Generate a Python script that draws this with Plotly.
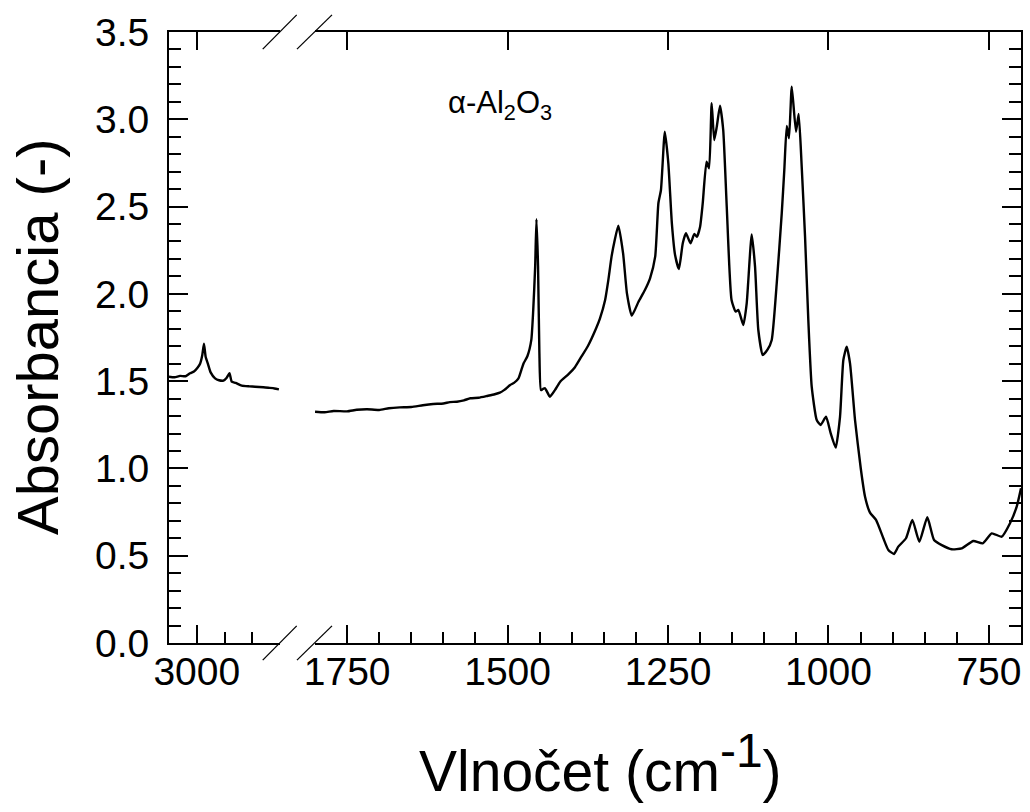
import plotly.graph_objects as go

# ---- data ----
left_wn = [3050, 3040, 3030, 3020, 3012, 3005, 2999, 2994, 2990, 2987, 2984, 2980, 2975,
           2967, 2960, 2952, 2946, 2941, 2937, 2930, 2919, 2905, 2895, 2880, 2871, 2860, 2852]
left_abs = [1.525, 1.522, 1.530, 1.528, 1.545, 1.555, 1.575, 1.600, 1.650, 1.715, 1.640, 1.600, 1.550,
            1.516, 1.505, 1.503, 1.520, 1.545, 1.497, 1.490, 1.474, 1.470, 1.468, 1.465, 1.462, 1.458, 1.453]

right_wn = [1800, 1785, 1771, 1750, 1735, 1719, 1700, 1685, 1668, 1650, 1632, 1616, 1600, 1590,
            1579, 1568, 1558, 1545, 1532, 1520, 1512, 1505, 1496, 1490, 1483, 1478, 1475, 1469,
            1463, 1460, 1457, 1455, 1452.5, 1450.5, 1448, 1445, 1441.6, 1434, 1426, 1418, 1405,
            1395, 1385, 1375, 1362, 1356, 1348, 1343, 1338, 1333, 1327.4, 1320, 1314, 1306.5,
            1296, 1286, 1278, 1270, 1265, 1261, 1255, 1249.5, 1244, 1239, 1233, 1227, 1222, 1215,
            1209, 1205, 1200, 1196, 1190, 1186, 1182, 1178, 1174, 1169, 1164, 1158.5, 1151,
            1144.5, 1140.4, 1132.7, 1127.4, 1119.6, 1114.4, 1109.3, 1102.4, 1095, 1088.4, 1080.6,
            1072.8, 1068.8, 1065, 1061.5, 1057.2, 1050.6, 1046.4, 1041.7, 1036.5, 1031.4, 1026.1,
            1018.3, 1012.1, 1003.8, 996.5, 988.7, 982, 976.8, 971.6, 966.4, 958.6, 949.7, 943,
            935.3, 925.9, 914.5, 906.7, 897.9, 891.2, 879.2, 869.3, 858.4, 846, 835.5, 823.5, 808,
            792.4, 774.3, 759.7, 745.6, 730.1, 717.1, 706.7, 700]
right_abs = [1.325, 1.322, 1.329, 1.327, 1.336, 1.339, 1.335, 1.345, 1.350, 1.352, 1.362, 1.369, 1.372, 1.380,
             1.382, 1.390, 1.402, 1.405, 1.415, 1.425, 1.434, 1.450, 1.478, 1.490, 1.516, 1.570, 1.602, 1.644,
             1.736, 1.908, 2.156, 2.427, 2.156, 1.678, 1.449, 1.455, 1.459, 1.411, 1.450, 1.497, 1.540,
             1.580, 1.640, 1.700, 1.803, 1.860, 1.965, 2.079, 2.213, 2.309, 2.391, 2.232, 2.003, 1.875,
             1.955, 2.022, 2.089, 2.213, 2.519, 2.595, 2.929, 2.748, 2.404, 2.223, 2.142, 2.290, 2.347, 2.290,
             2.343, 2.327, 2.385, 2.515, 2.757, 2.719, 3.092, 2.881, 2.958, 3.078, 2.939, 2.499, 1.965,
             1.898, 1.908, 1.822, 1.946, 2.341, 2.156, 1.793, 1.650, 1.680, 1.736, 2.060,
             2.461, 2.710, 2.962, 2.891, 3.187, 2.929, 3.030, 2.729, 2.328, 1.850, 1.468,
             1.277, 1.249, 1.296, 1.201, 1.119, 1.296, 1.621, 1.697, 1.602, 1.277, 1.001, 0.838,
             0.747, 0.705, 0.600, 0.533, 0.510, 0.552, 0.600, 0.705, 0.580, 0.720, 0.590, 0.561, 0.537,
             0.542, 0.584, 0.571, 0.628, 0.609, 0.686, 0.781, 0.886]

y_ticks = [0.0, 0.5, 1.0, 1.5, 2.0, 2.5, 3.0, 3.5]
y_ticktext = ["0.0", "0.5", "1.0", "1.5", "2.0", "2.5", "3.0", "3.5"]
left_ticks = [3000]
right_ticks = [1750, 1500, 1250, 1000, 750]

FONT = "Arial, Liberation Sans, sans-serif"
BLACK = "black"
D1 = [0, 0.1303]
D2 = [0.1714, 1]
LINE = dict(color=BLACK, width=2.4, shape="spline", smoothing=0.5)

fig = go.Figure()
fig.add_trace(go.Scatter(x=left_wn, y=left_abs, mode="lines", xaxis="x", yaxis="y",
                         line=LINE, showlegend=False, hoverinfo="skip"))
fig.add_trace(go.Scatter(x=right_wn, y=right_abs, mode="lines", xaxis="x2", yaxis="y2",
                         line=LINE, showlegend=False, hoverinfo="skip"))
# invisible helpers so that the top-tick overlay axes are created
fig.add_trace(go.Scatter(x=left_ticks, y=[0], mode="markers", xaxis="x3", yaxis="y",
                         marker=dict(opacity=0), showlegend=False, hoverinfo="skip"))
fig.add_trace(go.Scatter(x=right_ticks, y=[0] * len(right_ticks), mode="markers", xaxis="x4", yaxis="y2",
                         marker=dict(opacity=0), showlegend=False, hoverinfo="skip"))

common_x = dict(showline=True, linecolor=BLACK, linewidth=2, ticks="inside", ticklen=18, tickwidth=2,
                tickcolor=BLACK, showgrid=False, zeroline=False, mirror=True,
                tickfont=dict(family=FONT, size=39, color=BLACK), ticklabelstandoff=-7)
common_y = dict(showline=True, linecolor=BLACK, linewidth=2, ticks="inside", ticklen=19, tickwidth=2,
                tickcolor=BLACK, showgrid=False, zeroline=False, range=[0, 3.5],
                tickvals=y_ticks, ticktext=y_ticktext,
                minor=dict(dtick=0.1, tick0=0, ticks="inside", ticklen=12, tickwidth=2, tickcolor=BLACK,
                           showgrid=False),
                tickfont=dict(family=FONT, size=39, color=BLACK))

fig.update_layout(
    width=1030, height=812, autosize=False,
    margin=dict(l=169, r=9, t=32, b=169, pad=0),
    paper_bgcolor="white", plot_bgcolor="white",
    showlegend=False,
    xaxis=dict(domain=D1, range=[3050, 2850], anchor="y", tickvals=left_ticks,
               ticktext=[str(v) for v in left_ticks],
               minor=dict(dtick=50, tick0=3000, ticks="inside", ticklen=11, tickwidth=2,
                          tickcolor=BLACK, showgrid=False), **common_x),
    xaxis2=dict(domain=D2, range=[1800, 700], anchor="y2", tickvals=right_ticks,
                ticktext=[str(v) for v in right_ticks],
                minor=dict(dtick=50, tick0=750, ticks="inside", ticklen=11, tickwidth=2,
                           tickcolor=BLACK, showgrid=False), **common_x),
    xaxis3=dict(overlaying="x", side="top", anchor="y", range=[3050, 2850], tickvals=left_ticks,
                ticks="inside", ticklen=18, tickwidth=2, tickcolor=BLACK, showticklabels=False,
                showline=False, showgrid=False, zeroline=False),
    xaxis4=dict(overlaying="x2", side="top", anchor="y2", range=[1800, 700], tickvals=right_ticks,
                ticks="inside", ticklen=18, tickwidth=2, tickcolor=BLACK, showticklabels=False,
                showline=False, showgrid=False, zeroline=False),
    yaxis=dict(anchor="x", side="left", ticklabelstandoff=10, **common_y),
    yaxis2=dict(anchor="x2", side="right", matches="y", showticklabels=False, **common_y),
)

# axis-break slashes (paper coordinates)
for (x0, x1) in [(0.110, 0.1499), (0.1502, 0.1913)]:
    for yc in [0.0, 1.0]:
        fig.add_shape(type="line", xref="paper", yref="paper", x0=x0, x1=x1,
                      y0=yc - 0.028, y1=yc + 0.028, line=dict(color=BLACK, width=1.3))

fig.add_annotation(xref="paper", yref="paper", x=-0.155, y=0.5008, text="Absorbancia (-)",
                   textangle=-90, showarrow=False, xanchor="center", yanchor="middle",
                   font=dict(family=FONT, size=58, color=BLACK))
fig.add_annotation(xref="paper", yref="paper", x=0.506, y=-0.198,
                   text='Vlnočet (cm<sup><span style="font-size:48px">-1</span></sup>)',
                   showarrow=False, xanchor="center", yanchor="middle",
                   font=dict(family=FONT, size=57, color=BLACK))
fig.add_annotation(xref="paper", yref="paper", x=0.3885, y=0.8805,
                   text="α-Al<sub>2</sub>O<sub>3</sub>",
                   showarrow=False, xanchor="center", yanchor="middle",
                   font=dict(family=FONT, size=31, color=BLACK))

fig.write_html("out.html")
